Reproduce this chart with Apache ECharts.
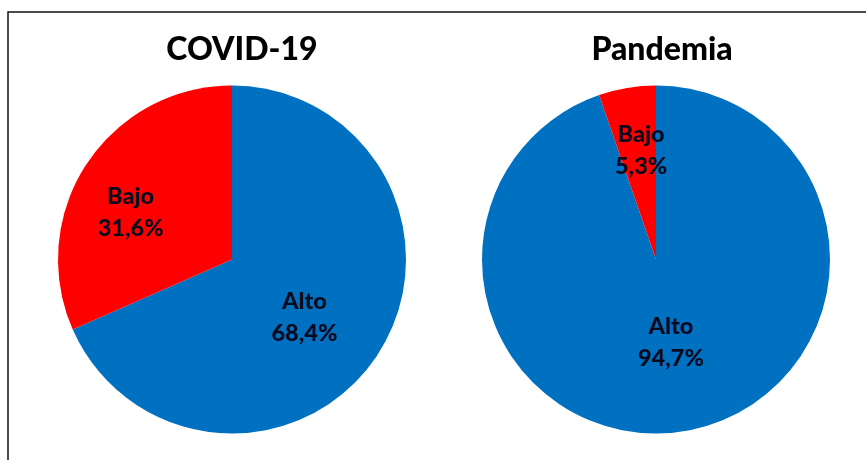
<!DOCTYPE html>
<html>
<head>
<meta charset="utf-8">
<script src="https://cdn.jsdelivr.net/npm/echarts@6/dist/echarts.min.js"></script>
<style>
html,body{margin:0;padding:0;background:#fff;}
#chart{width:866px;height:460px;}
</style>
</head>
<body>
<div id="chart"></div>
<script>
// Data
const titles = ['COVID-19', 'Pandemia'];
const categories = ['Alto', 'Bajo'];
const covidValues = [68.4, 31.6];
const pandemiaValues = [94.7, 5.3];

const colors = ['#0070C0', '#FF0000'];
const centers = [[232, 259.5], [656, 259.5]];
const labelShift = [
  [[-3, 9], [-26, 2]],
  [[0, -6], [0, -20]]
];
const fontFam = 'Lato, "Open Sans", sans-serif';

function fmt(v) { return v.toFixed(1).replace('.', ',') + '%'; }

function makeSeries(idx, values) {
  return {
    type: 'pie',
    center: centers[idx],
    radius: 174,
    startAngle: 90,
    clockwise: true,
    silent: true,
    animation: false,
    itemStyle: { borderWidth: 0 },
    label: {
      show: true,
      position: 'inside',
      formatter: p => p.name + '\n' + fmt(p.value),
      fontFamily: fontFam,
      fontWeight: 900,
      fontSize: 23.5,
      lineHeight: 32,
      color: '#0a0a1e',
      align: 'center'
    },
    labelLine: { show: false },
    labelLayout: function (p) {
      const s = labelShift[idx][p.dataIndex];
      return { dx: s[0], dy: s[1] };
    },
    data: categories.map((c, i) => ({ name: c, value: values[i], itemStyle: { color: colors[i] } }))
  };
}

const chart = echarts.init(document.getElementById('chart'));
chart.setOption({
  backgroundColor: '#fff',
  animation: false,
  title: [
    { text: titles[0], left: 237, top: 29, textAlign: 'center',
      textStyle: { fontFamily: fontFam, fontWeight: 900, fontSize: 32, color: '#000' } },
    { text: titles[1], left: 657, top: 29, textAlign: 'center',
      textStyle: { fontFamily: fontFam, fontWeight: 900, fontSize: 32, color: '#000' } }
  ],
  graphic: [
    { type: 'rect', shape: { x: 8, y: 12, width: 1000, height: 1000 },
      style: { fill: 'none', stroke: '#111', lineWidth: 1.5 }, silent: true }
  ],
  series: [makeSeries(0, covidValues), makeSeries(1, pandemiaValues)]
});
</script>
</body>
</html>
